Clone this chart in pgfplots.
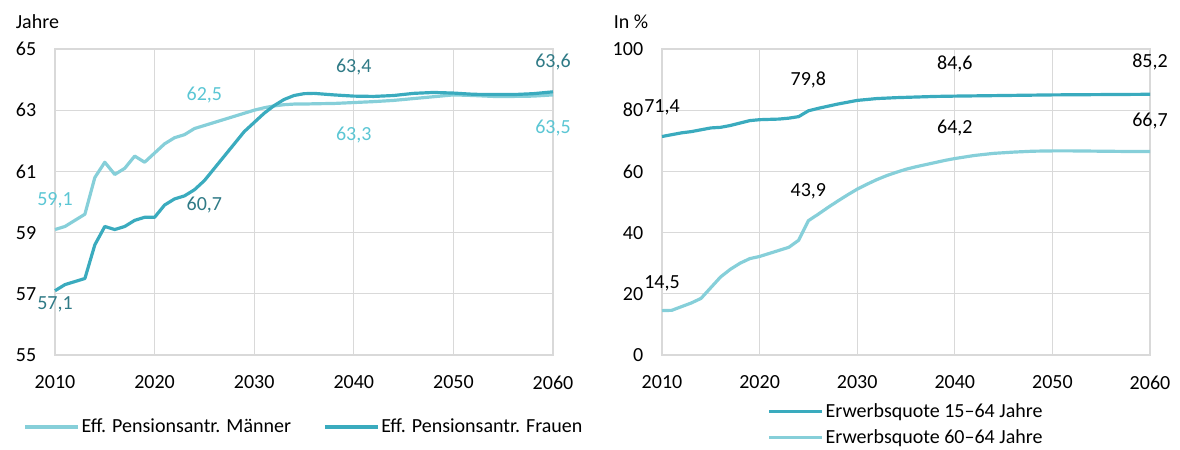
\documentclass[border=0pt]{standalone}
\usepackage{pgfplots}
\pgfplotsset{compat=1.18}
\usepackage{fontspec}
\setmainfont{Carlito}
\definecolor{lightc}{HTML}{86CFD9}
\definecolor{darkc}{HTML}{3AABBE}
\definecolor{lighttxt}{HTML}{5BC6D4}
\definecolor{darktxt}{HTML}{2F7A86}
\definecolor{gridc}{HTML}{D9D9D9}
\pgfplotsset{
  mystyle/.style={
    scale only axis,
    clip=false,
    xmin=2010, xmax=2060,
    xtick={2010,2020,...,2060},
    /pgf/number format/assume math mode=true,
    /pgf/number format/1000 sep={},
    grid=major,
    major grid style={draw=gridc, line width=1.3pt},
    axis line style={draw=gridc, line width=1.3pt},
    tick style={draw=none},
    yticklabel style={anchor=east, xshift=-12bp},
    xticklabel style={anchor=north, yshift=-14bp},
    axis on top=false,
    legend style={draw=none, fill=none, inner sep=0pt, row sep=5bp},
    legend image code/.code={\draw[#1] (0bp,0bp) -- (53bp,0bp);},
  }
}
\begin{document}
\fontsize{20bp}{24bp}\selectfont
\begin{tikzpicture}
\path[use as bounding box] (0,0) rectangle (1180bp,450bp);
\node[anchor=west] at (9bp,428bp) {Jahre};
\node[anchor=west] at (607bp,428bp) {In \%};
\begin{axis}[mystyle,
  at={(55bp,95bp)}, anchor=south west,
  width=498bp, height=306bp,
  ymin=55, ymax=65, ytick={55,57,...,65},
  legend columns=2,
  legend style={at={(0.5,-0.235)}, anchor=center, /tikz/every even column/.append style={column sep=30bp}},
]
\addplot[lightc, line width=3.2pt, line join=round] coordinates {
(2010,59.1) (2011,59.2) (2012,59.4) (2013,59.6) (2014,60.8) (2015,61.3) (2016,60.9) (2017,61.1) (2018,61.5) (2019,61.3)
(2020,61.6) (2021,61.9) (2022,62.1) (2023,62.2) (2024,62.4) (2025,62.5) (2026,62.6) (2027,62.7) (2028,62.8) (2029,62.9)
(2030,63.0) (2031,63.08) (2032,63.14) (2033,63.18) (2034,63.2) (2035,63.2) (2036,63.21) (2038,63.22) (2040,63.25)
(2042,63.28) (2044,63.32) (2046,63.38) (2048,63.44) (2050,63.5) (2052,63.48) (2054,63.45) (2056,63.45) (2058,63.46) (2060,63.5)
};
\addlegendentry{Eff. Pensionsantr. Männer}
\addplot[darkc, line width=3.2pt, line join=round] coordinates {
(2010,57.1) (2011,57.3) (2012,57.4) (2013,57.5) (2014,58.6) (2015,59.2) (2016,59.1) (2017,59.2) (2018,59.4) (2019,59.5)
(2020,59.5) (2021,59.9) (2022,60.1) (2023,60.2) (2024,60.4) (2025,60.7) (2026,61.1) (2027,61.5) (2028,61.9) (2029,62.3)
(2030,62.6) (2031,62.9) (2032,63.15) (2033,63.35) (2034,63.48) (2035,63.54) (2036,63.55) (2038,63.5) (2040,63.46)
(2042,63.45) (2044,63.48) (2046,63.55) (2048,63.58) (2050,63.56) (2052,63.52) (2054,63.51) (2056,63.51) (2058,63.54) (2060,63.6)
};
\addlegendentry{Eff. Pensionsantr. Frauen}
\node[lighttxt] at (axis cs:2010,60.07) {59,1};
\node[darktxt] at (axis cs:2010,56.67) {57,1};
\node[lighttxt] at (axis cs:2025,63.5) {62,5};
\node[darktxt] at (axis cs:2025,59.9) {60,7};
\node[darktxt] at (axis cs:2040,64.41) {63,4};
\node[lighttxt] at (axis cs:2040,62.19) {63,3};
\node[darktxt] at (axis cs:2060,64.58) {63,6};
\node[lighttxt] at (axis cs:2060,62.42) {63,5};
\end{axis}
\begin{axis}[mystyle,
  at={(662bp,95bp)}, anchor=south west,
  width=488bp, height=306bp,
  ymin=0, ymax=100, ytick={0,20,...,100},
  legend columns=1,
  legend style={at={(0.5,-0.228)}, anchor=center},
]
\addplot[darkc, line width=3.2pt, line join=round] coordinates {
(2010,71.4) (2011,72.0) (2012,72.6) (2013,73.0) (2014,73.6) (2015,74.2) (2016,74.4) (2017,75.0) (2018,75.8) (2019,76.6)
(2020,76.9) (2021,77.0) (2022,77.1) (2023,77.4) (2024,77.9) (2025,79.8) (2026,80.6) (2027,81.3) (2028,82.0) (2029,82.6)
(2030,83.2) (2032,83.8) (2034,84.1) (2036,84.3) (2038,84.5) (2040,84.6) (2045,84.8) (2050,85.0) (2055,85.1) (2060,85.2)
};
\addlegendentry{Erwerbsquote 15–64 Jahre}
\addplot[lightc, line width=3.2pt, line join=round] coordinates {
(2010,14.5) (2011,14.6) (2012,15.8) (2013,17.0) (2014,18.5) (2015,22.0) (2016,25.5) (2017,28.0) (2018,30.0) (2019,31.5)
(2020,32.2) (2021,33.2) (2022,34.2) (2023,35.2) (2024,37.5) (2025,43.9) (2026,46.0) (2027,48.2) (2028,50.3) (2029,52.3)
(2030,54.2) (2031,55.8) (2032,57.3) (2033,58.6) (2034,59.7) (2035,60.7) (2036,61.5) (2037,62.2) (2038,62.9) (2039,63.6)
(2040,64.2) (2042,65.2) (2044,65.9) (2046,66.3) (2048,66.6) (2050,66.7) (2052,66.7) (2055,66.6) (2058,66.5) (2060,66.5)
};
\addlegendentry{Erwerbsquote 60–64 Jahre}
\node at (axis cs:2010,81.0) {71,4};
\node at (axis cs:2010,23.5) {14,5};
\node at (axis cs:2025,89.9) {79,8};
\node at (axis cs:2025,53.6) {43,9};
\node at (axis cs:2040,95.1) {84,6};
\node at (axis cs:2040,74.2) {64,2};
\node at (axis cs:2060,95.75) {85,2};
\node at (axis cs:2060,76.5) {66,7};
\end{axis}
\end{tikzpicture}
\end{document}
